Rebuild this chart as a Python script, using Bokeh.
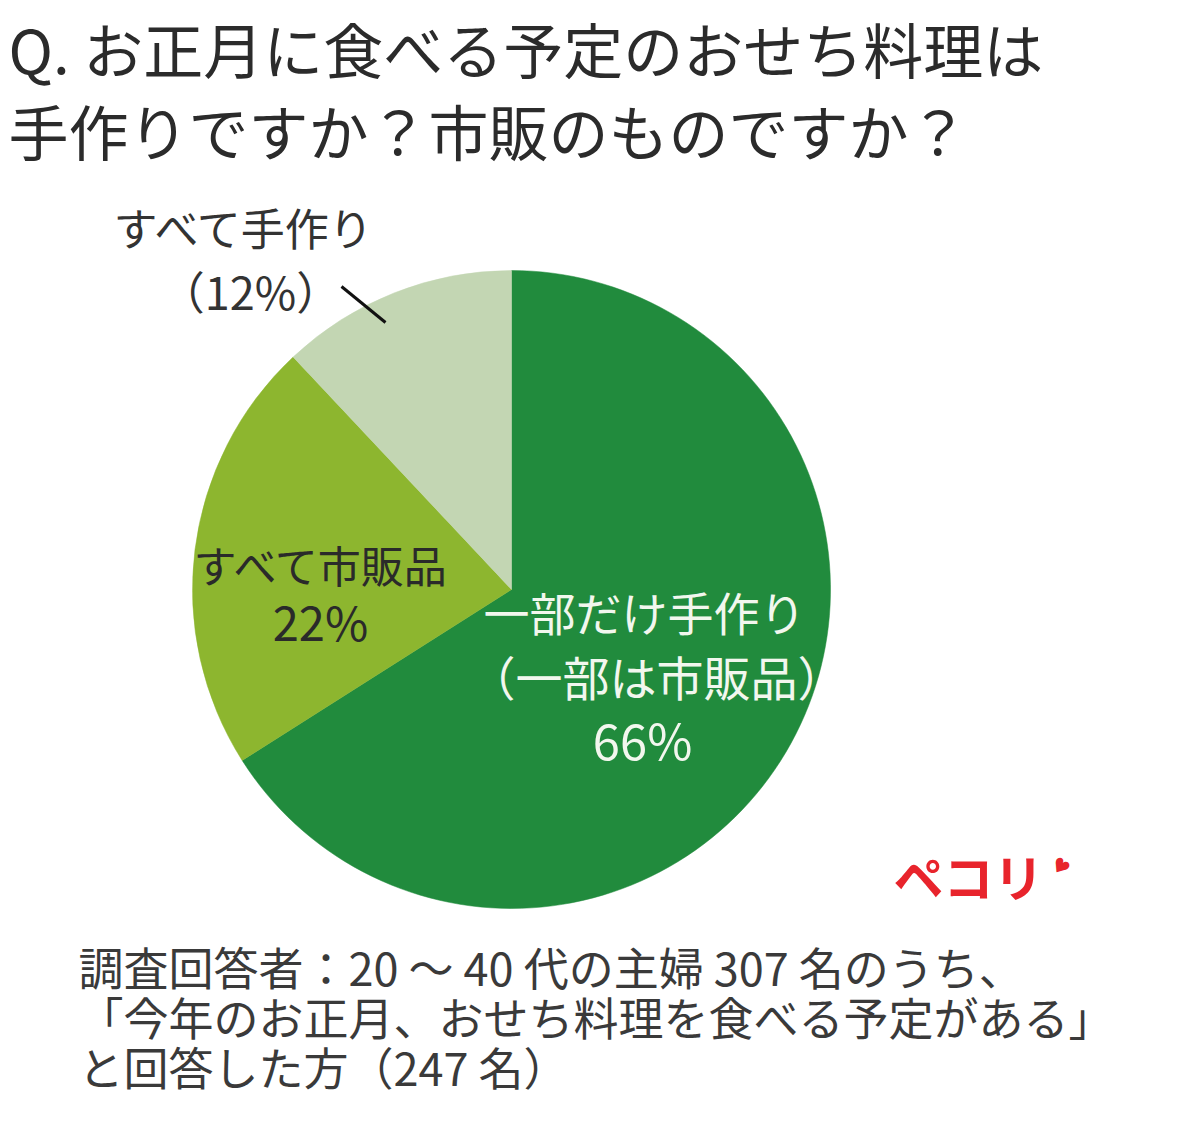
import math
from bokeh.plotting import figure
from bokeh.models import Range1d, ColumnDataSource
from bokeh.core.properties import value
from bokeh.embed import file_html
from bokeh.resources import INLINE

# ---- data ----
categories = ["一部だけ手作り（一部は市販品）", "すべて市販品", "すべて手作り"]
shares = [66, 22, 12]
colors = ["#218B3D", "#8DB62F", "#C3D6B3"]

title_lines = ["Q. お正月に食べる予定のおせち料理は", "手作りですか？市販のものですか？"]
footer_lines = ["調査回答者：20 ～ 40 代の主婦 307 名のうち、",
                "「今年のお正月、おせち料理を食べる予定がある」",
                "と回答した方（247 名）"]

FONT = value("Noto Sans CJK JP")
W, H = 1184, 1111


def Y(ref_y):
    # reference image pixel row -> data y (pixels, upward)
    return 1127 - ref_y


p = figure(width=W, height=H, output_backend="svg", toolbar_location=None,
           x_range=Range1d(0, W), y_range=Range1d(1127 - H, 1127))
p.axis.visible = False
p.grid.visible = False
p.outline_line_color = None
p.min_border = 0
p.background_fill_color = "white"
p.border_fill_color = "white"

# ---- pie (clockwise from 12 o'clock) ----
cx, cy, r = 511, Y(589), 319
total = sum(shares)
starts, ends = [], []
a = math.pi / 2
for s in shares:
    sweep = 2 * math.pi * s / total
    ends.append(a)
    starts.append(a - sweep)
    a -= sweep
src = ColumnDataSource(dict(start=starts, end=ends, color=colors, cat=categories))
p.wedge(x=cx, y=cy, radius=r, start_angle="start", end_angle="end",
        fill_color="color", line_color="color", line_width=0.5, source=src)

# ---- title ----
for txt, ry in zip(title_lines, [47, 129]):
    p.text(x=[8], y=[Y(ry)], text=[txt], text_font=FONT, text_font_size="60px",
           text_color="#2b2b2b", text_baseline="middle", text_align="left")

# ---- slice labels ----
p.text(x=[245], y=[Y(226)], text=["すべて手作り"], text_font=FONT, text_font_size="44px",
       text_color="#333333", text_baseline="middle", text_align="center")
p.text(x=[250], y=[Y(290)], text=[f"（{shares[2]}%）"], text_font=FONT, text_font_size="45px",
       text_color="#333333", text_baseline="middle", text_align="center")
p.line(x=[341, 385], y=[Y(286), Y(322)], line_color="#111111", line_width=3)

p.text(x=[322], y=[Y(563)], text=["すべて市販品"], text_font=FONT, text_font_size="43px",
       text_color="#2a2a2a", text_baseline="middle", text_align="center")
p.text(x=[320], y=[Y(620)], text=[f"{shares[1]}%"], text_font=FONT, text_font_size="47px",
       text_color="#2a2a2a", text_baseline="middle", text_align="center")

p.text(x=[644], y=[Y(610)], text=["一部だけ手作り"], text_font=FONT, text_font_size="46px",
       text_color="#F2F7EE", text_baseline="middle", text_align="center")
p.text(x=[656], y=[Y(675)], text=["（一部は市販品）"], text_font=FONT, text_font_size="47px",
       text_color="#F2F7EE", text_baseline="middle", text_align="center")
p.text(x=[642], y=[Y(738)], text=[f"{shares[0]}%"], text_font=FONT, text_font_size="49px",
       text_color="#F2F7EE", text_baseline="middle", text_align="center")

# ---- logo ----
p.text(x=[893], y=[Y(874)], text=["ペコリ"], text_font=FONT, text_font_size="50px",
       text_font_style="bold", text_color="#E8242C", text_baseline="middle", text_align="left")
p.text(x=[1060], y=[Y(866)], text=["♥"], text_font=value("DejaVu Sans"), text_font_size="20px",
       angle=-0.6, text_color="#E8242C", text_baseline="middle", text_align="center")

# ---- footer ----
for txt, ry in zip(footer_lines, [966, 1016, 1066]):
    p.text(x=[78], y=[Y(ry)], text=[txt], text_font=FONT, text_font_size="45px",
           text_color="#3a3a3a", text_baseline="middle", text_align="left")

open("out.html", "w").write(file_html(p, INLINE))
